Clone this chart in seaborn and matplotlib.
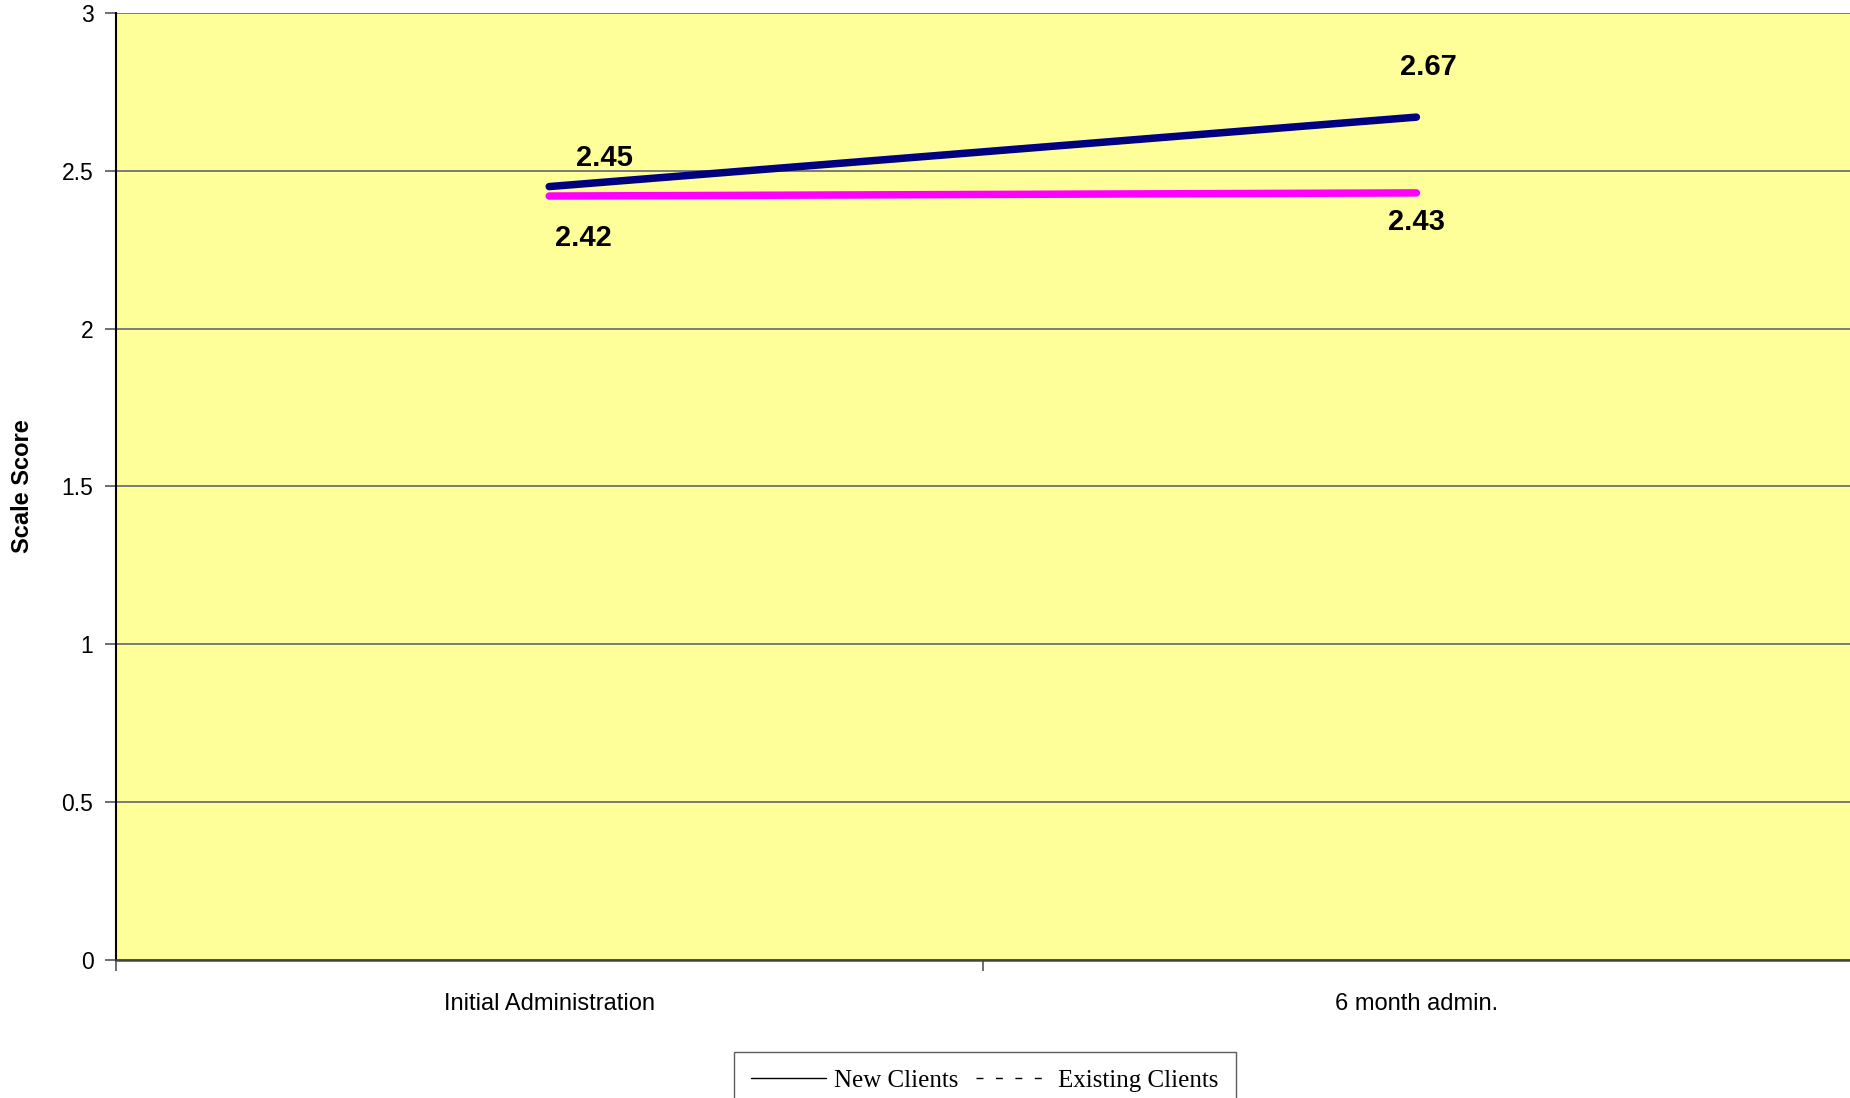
import matplotlib
matplotlib.use("Agg")
import matplotlib.pyplot as plt
import seaborn as sns
import pandas as pd
from matplotlib.lines import Line2D

# Survey scale scores by administration
periods = ["Initial Administration", "6 month admin."]
new_clients = [2.45, 2.67]
existing_clients = [2.42, 2.43]
series_names = ["New Clients", "Existing Clients"]
y_ticks = [0, 0.5, 1, 1.5, 2, 2.5, 3]

df = pd.DataFrame({
    "period": list(range(len(periods))) * 2,
    "score": new_clients + existing_clients,
    "group": [series_names[0]] * len(periods) + [series_names[1]] * len(periods),
})

sns.set_style("white")
plt.rcParams["font.family"] = ["Liberation Sans", "DejaVu Sans"]
plt.rcParams["text.color"] = "black"
plt.rcParams["xtick.color"] = "black"
plt.rcParams["ytick.color"] = "black"
plt.rcParams["axes.labelcolor"] = "black"

DPI = 100
fig = plt.figure(figsize=(18.5, 10.98), dpi=DPI)
ax = fig.add_axes([0.0625, 0.1257, 0.9375, 0.8625])
ax.set_facecolor("#FFFF99")

palette = {series_names[0]: "#000080", series_names[1]: "#FF00FF"}
sns.lineplot(data=df, x="period", y="score", hue="group", palette=palette,
             linewidth=5.4, ax=ax, legend=False,
             solid_capstyle="round", zorder=3)

ax.set_xlim(-0.5, 1.5)
ax.set_ylim(0, 3)
ax.set_yticks(y_ticks)
ax.set_yticklabels([f"{t:g}" for t in y_ticks], fontsize=16.5)
ax.yaxis.grid(True, color="#7a7a7a", linewidth=1.4)
ax.set_axisbelow(True)

# category labels sit between boundary ticks
ax.set_xticks([-0.5, 0.5])
ax.set_xticklabels([])
ax.set_xticks([0, 1], minor=True)
ax.set_xticklabels(periods, minor=True, fontsize=17)
ax.tick_params(axis="x", which="minor", bottom=True, length=0, pad=24)
ax.tick_params(axis="x", which="major", bottom=True, length=8, width=1.2,
               color="#555555", direction="out")
ax.tick_params(axis="y", left=True, length=8, width=1.2, color="#555555",
               direction="out", pad=8)

ax.set_xlabel("")
ax.set_ylabel("Scale Score", fontsize=17, fontweight="bold", labelpad=20)

for side in ["top", "right"]:
    ax.spines[side].set_visible(False)
ax.spines["left"].set_color("#000000")
ax.spines["left"].set_linewidth(1.5)
ax.spines["bottom"].set_color("#444444")
ax.spines["bottom"].set_linewidth(1.8)

# value labels (offsets in pixels converted to points)
px = 72.0 / DPI
offsets = {
    (0, 0): (55, 29), (0, 1): (12, 50),
    (1, 0): (34, -42), (1, 1): (0, -29),
}
for si, vals in enumerate([new_clients, existing_clients]):
    for pi, v in enumerate(vals):
        dx, dy = offsets[(si, pi)]
        ax.annotate(f"{v:.2f}", xy=(pi, v), xytext=(dx * px, dy * px),
                    textcoords="offset points", ha="center", va="center",
                    fontsize=21, fontweight="bold", zorder=4)

handles = [
    Line2D([], [], color="black", linewidth=1.0),
    Line2D([], [], color="black", linewidth=1.0, linestyle=(0, (5, 9))),
]
leg = fig.legend(handles, series_names, loc="upper center",
                 bbox_to_anchor=(985 / 1850, 1 - 1052 / 1098), ncol=2,
                 frameon=True, fancybox=False, borderaxespad=0,
                 prop={"family": "Liberation Serif", "size": 18},
                 handlelength=3.0, handletextpad=0.3, columnspacing=0.7,
                 borderpad=0.7)
leg.get_frame().set_edgecolor("#333333")
leg.get_frame().set_linewidth(1.0)

fig.savefig("out.png", dpi=DPI, facecolor="white")
